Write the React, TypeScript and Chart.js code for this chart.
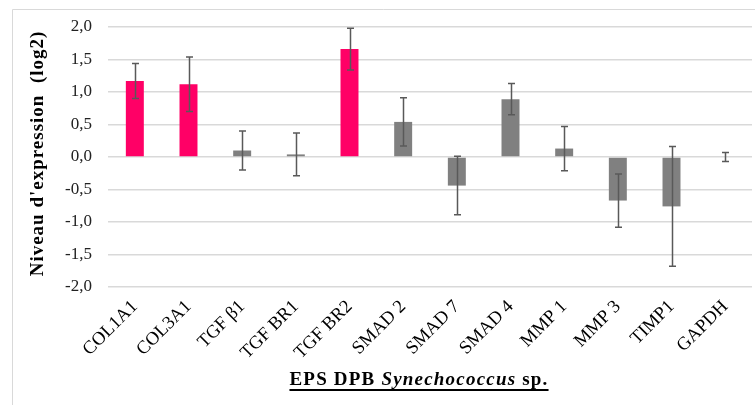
import React, { useEffect, useRef } from "react";
import { Chart, registerables } from "chart.js";

Chart.register(...registerables);

const categories = ["COL1A1", "COL3A1", "TGF β1", "TGF BR1", "TGF BR2", "SMAD 2", "SMAD 7", "SMAD 4", "MMP 1", "MMP 3", "TIMP1", "GAPDH"];
const values = [1.17, 1.12, 0.10, 0.04, 1.66, 0.54, -0.44, 0.89, 0.13, -0.67, -0.76, 0.0];
const errors = [0.27, 0.42, 0.30, 0.33, 0.32, 0.37, 0.45, 0.24, 0.34, 0.41, 0.92, 0.07];
const highlighted = [true, true, false, false, true, false, false, false, false, false, false, false];
const yTitle = "Niveau d'expression  (log2)";
const xTitleParts = [
  { text: "EPS DPB ", italic: false },
  { text: "Synechococcus", italic: true },
  { text: " sp.", italic: false },
];

const PINK = "#FF0066";
const GRAY = "#808080";
const FONT = "'Liberation Serif', 'Times New Roman', serif";

export default function App() {
  const ref = useRef<HTMLCanvasElement | null>(null);

  useEffect(() => {
    document.body.style.margin = "0";
    document.body.style.overflow = "hidden";
    const canvas = ref.current!;

    const framePlugin = {
      id: "frame",
      beforeDraw(chart: any) {
        const ctx = chart.ctx;
        ctx.save();
        ctx.fillStyle = "#ffffff";
        ctx.fillRect(0, 0, chart.width, chart.height);
        ctx.strokeStyle = "#d9d9d9";
        ctx.lineWidth = 1;
        ctx.beginPath();
        ctx.moveTo(12.5, chart.height);
        ctx.lineTo(12.5, 9.5);
        ctx.lineTo(chart.width, 9.5);
        ctx.stroke();
        ctx.restore();
      },
    };

    const errorPlugin = {
      id: "errorbars",
      afterDatasetsDraw(chart: any) {
        const ctx = chart.ctx;
        const xs = chart.scales.x;
        const ys = chart.scales.y;
        ctx.save();
        ctx.strokeStyle = "#595959";
        ctx.lineWidth = 1.5;
        values.forEach((v, i) => {
          const x = Math.round(xs.getPixelForValue(i)) + 0.5;
          const t = ys.getPixelForValue(v + errors[i]);
          const b = ys.getPixelForValue(v - errors[i]);
          ctx.beginPath();
          ctx.moveTo(x, t);
          ctx.lineTo(x, b);
          ctx.moveTo(x - 3.5, t);
          ctx.lineTo(x + 3.5, t);
          ctx.moveTo(x - 3.5, b);
          ctx.lineTo(x + 3.5, b);
          ctx.stroke();
        });
        ctx.restore();
      },
    };

    const titlesPlugin = {
      id: "titles",
      afterDraw(chart: any) {
        const ctx = chart.ctx;
        ctx.save();
        ctx.fillStyle = "#000000";
        ctx.translate(38, 153.5);
        ctx.rotate(-Math.PI / 2);
        ctx.font = `bold 19px ${FONT}`;
        (ctx as any).letterSpacing = "1px";
        ctx.textAlign = "center";
        ctx.textBaseline = "middle";
        ctx.fillText(yTitle, 0, 0);
        ctx.restore();

        ctx.save();
        ctx.fillStyle = "#000000";
        (ctx as any).letterSpacing = "1.2px";
        ctx.textBaseline = "alphabetic";
        ctx.textAlign = "left";
        const widths = xTitleParts.map((p) => {
          ctx.font = `${p.italic ? "italic " : ""}bold 19px ${FONT}`;
          return ctx.measureText(p.text).width;
        });
        const total = widths.reduce((a, b) => a + b, 0);
        let x = 419 - total / 2;
        const baseline = 385;
        xTitleParts.forEach((p, i) => {
          ctx.font = `${p.italic ? "italic " : ""}bold 19px ${FONT}`;
          ctx.fillText(p.text, x, baseline);
          x += widths[i];
        });
        ctx.fillRect(419 - total / 2, baseline + 4, total, 2);
        ctx.restore();
      },
    };

    const chart = new Chart(canvas, {
      type: "bar",
      data: {
        labels: categories,
        datasets: [
          {
            data: values,
            backgroundColor: highlighted.map((h) => (h ? PINK : GRAY)),
            borderWidth: 0,
            barPercentage: 0.335,
            categoryPercentage: 1,
          },
        ],
      },
      options: {
        responsive: false,
        animation: false,
        devicePixelRatio: 1,
        layout: { padding: { left: 0, right: 3, top: 27, bottom: 0 } },
        plugins: {
          legend: { display: false },
          tooltip: { enabled: false },
        },
        scales: {
          x: {
            grid: { display: false, drawTicks: false },
            border: { display: false },
            ticks: {
              color: "#000000",
              font: { family: FONT, size: 18.5 },
              minRotation: 45,
              maxRotation: 45,
              padding: 9,
              autoSkip: false,
            },
            afterFit(scale: any) {
              scale.height = 118;
            },
          },
          y: {
            min: -2,
            max: 2,
            grid: { color: "#d9d9d9", lineWidth: 1.5, drawTicks: false },
            border: { display: false },
            ticks: {
              stepSize: 0.5,
              color: "#222222",
              font: { family: FONT, size: 17 },
              padding: 16,
              callback: (v: any) => Number(v).toFixed(1).replace(".", ","),
            },
            afterFit(scale: any) {
              scale.width = 108;
            },
          },
        },
      },
      plugins: [framePlugin, errorPlugin, titlesPlugin],
    });

    return () => chart.destroy();
  }, []);

  return (
    <div style={{ width: 755, height: 405 }}>
      <canvas ref={ref} width={755} height={405} style={{ display: "block" }} />
    </div>
  );
}
